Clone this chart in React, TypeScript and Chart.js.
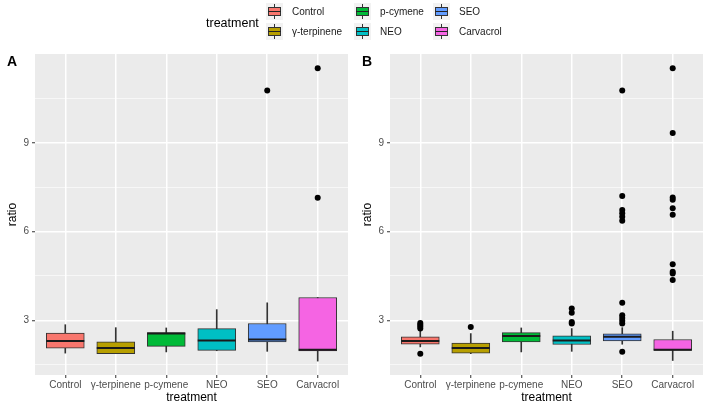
import React, { useEffect, useRef } from "react";
import { Chart, registerables } from "chart.js";
Chart.register(...registerables);

const categories = ["Control", "γ-terpinene", "p-cymene", "NEO", "SEO", "Carvacrol"];
const yTicks = [1.5, 3, 4.5, 6, 7.5, 9, 10.5];
const yMajor = [3, 6, 9];

// Panel A
const lowA = [1.89, 1.87, 1.93, 1.97, 1.95, 1.62];
const q1A = [2.06, 1.87, 2.12, 1.98, 2.27, 1.96];
const medA = [2.3, 2.06, 2.55, 2.32, 2.35, 2.0];
const q3A = [2.57, 2.27, 2.58, 2.72, 2.89, 3.77];
const highA = [2.85, 2.75, 2.74, 3.36, 3.59, 3.77];
const outliersA = [[], [], [], [], [10.77], [11.52, 7.14]];

// Panel B
const lowB = [2.1, 1.87, 1.93, 1.95, 2.19, 1.64];
const q1B = [2.19, 1.89, 2.27, 2.18, 2.3, 1.98];
const medB = [2.3, 2.06, 2.47, 2.32, 2.44, 2.0];
const q3B = [2.44, 2.23, 2.58, 2.47, 2.54, 2.35];
const highB = [2.66, 2.55, 2.74, 2.72, 2.75, 2.63];
const outliersB = [
  [2.91, 2.85, 2.79, 2.72, 1.87],
  [2.77],
  [],
  [3.4, 3.25, 2.94, 2.89],
  [10.77, 7.2, 6.73, 6.62, 6.5, 6.36, 3.59, 3.17, 3.08, 2.98, 2.89, 1.94],
  [11.52, 9.33, 7.15, 7.07, 6.79, 6.57, 4.89, 4.64, 4.58, 4.36],
];

const palette = ["#F8766D", "#B79F00", "#00BA38", "#00BFC4", "#619CFF", "#F564E3"];
const FONT = "'Liberation Sans', Arial, Helvetica, sans-serif";

const bgPlugin = {
  id: "panelBg",
  beforeDraw(chart: any) {
    const { ctx, chartArea } = chart;
    ctx.save();
    ctx.fillStyle = "#EBEBEB";
    ctx.fillRect(chartArea.left, chartArea.top, chartArea.right - chartArea.left, chartArea.bottom - chartArea.top);
    ctx.restore();
  },
};

function buildConfig(low: number[], q1: number[], med: number[], q3: number[], high: number[], outliers: number[][]): any {
  return {
    type: "bar",
    data: {
      datasets: [
        {
          type: "scatter",
          label: "outliers",
          data: outliers.flatMap((arr, i) => arr.map((v) => ({ x: i, y: v }))),
          pointRadius: 3,
          pointBackgroundColor: "#000",
          pointBorderWidth: 0,
          order: 1,
        },
        {
          type: "scatter",
          label: "median",
          data: med.map((v, i) => ({ x: i, y: v })),
          pointStyle: "line",
          pointRadius: 19,
          borderColor: "#1a1a1a",
          pointBorderColor: "#1a1a1a",
          borderWidth: 2,
          pointBorderWidth: 2,
          order: 2,
        },
        {
          type: "bar",
          label: "box",
          data: categories.map((_, i) => ({ x: i, y: [q1[i], q3[i]] })),
          backgroundColor: palette,
          borderColor: "#333",
          borderWidth: 1,
          borderSkipped: false,
          barThickness: 38,
          grouped: false,
          order: 3,
        },
        {
          type: "bar",
          label: "whisker",
          data: categories.map((_, i) => ({ x: i, y: [low[i], high[i]] })),
          backgroundColor: "#333",
          borderWidth: 0,
          barThickness: 1,
          grouped: false,
          order: 4,
        },
      ],
    },
    options: {
      responsive: false,
      animation: false,
      devicePixelRatio: 1,
      layout: { autoPadding: false, padding: { top: 54, right: 7, left: 0, bottom: 0 } },
      plugins: { legend: { display: false }, tooltip: { enabled: false } },
      scales: {
        x: {
          type: "linear",
          min: -0.6,
          max: 5.6,
          offset: false,
          afterBuildTicks: (s: any) => {
            s.ticks = categories.map((_, i) => ({ value: i }));
          },
          afterFit: (s: any) => {
            s.height = 31;
            s.paddingLeft = 0;
            s.paddingRight = 0;
          },
          grid: { offset: false, color: "#ffffff", lineWidth: 1.5, tickLength: 3, tickColor: "#333", tickWidth: 1 },
          border: { display: false },
          ticks: {
            callback: (v: any) => categories[v],
            color: "#4D4D4D",
            font: { size: 10, family: FONT },
            padding: 1,
            maxRotation: 0,
            autoSkip: false,
          },
          title: { display: true, text: "treatment", color: "#000", font: { size: 12, family: FONT }, padding: { top: 0, bottom: 1 } },
        },
        y: {
          type: "linear",
          min: 1.15,
          max: 12.0,
          afterBuildTicks: (s: any) => {
            s.ticks = yTicks.map((v) => ({ value: v }));
          },
          afterFit: (s: any) => {
            s.width = 35;
          },
          grid: {
            color: (c: any) => (yMajor.includes(c.tick?.value) ? "#ffffff" : "rgba(255,255,255,0.75)"),
            lineWidth: (c: any) => (yMajor.includes(c.tick?.value) ? 1.5 : 0.8),
            tickColor: (c: any) => (yMajor.includes(c.tick?.value) ? "#333" : "rgba(0,0,0,0)"),
            tickLength: 3,
            tickWidth: 1,
          },
          border: { display: false },
          ticks: {
            callback: (v: any) => (yMajor.includes(v) ? String(v) : ""),
            color: "#4D4D4D",
            font: { size: 10, family: FONT },
            padding: 3,
          },
          title: { display: true, text: "ratio", color: "#000", font: { size: 12, family: FONT }, padding: { top: 5, bottom: 0 } },
        },
      },
    },
    plugins: [bgPlugin],
  };
}

function Panel(props: { left: number; cfg: () => any }) {
  const ref = useRef<HTMLCanvasElement | null>(null);
  useEffect(() => {
    if (!ref.current) return;
    const chart = new Chart(ref.current, props.cfg());
    return () => chart.destroy();
  }, []);
  return (
    <canvas
      ref={ref}
      width={355}
      height={406}
      style={{ position: "absolute", left: props.left, top: 0, width: 355, height: 406 }}
    />
  );
}

function Key({ color }: { color: string }) {
  return (
    <div style={{ position: "absolute", left: 0, top: 0, width: 17, height: 17, background: "#F2F2F2" }}>
      <div style={{ position: "absolute", left: 8, top: 1, width: 1, height: 15, background: "#333" }} />
      <div
        style={{
          position: "absolute",
          left: 2,
          top: 4,
          width: 13,
          height: 9,
          boxSizing: "border-box",
          background: color,
          border: "1px solid #333",
        }}
      />
      <div style={{ position: "absolute", left: 2, top: 8, width: 13, height: 1, background: "#222" }} />
    </div>
  );
}

const legendCols = [266, 354, 433];
const legendRows = [3, 23];

export default function App() {
  useEffect(() => {
    document.body.style.margin = "0";
  }, []);
  return (
    <div style={{ position: "fixed", left: 0, top: 0, width: 710, height: 406, background: "#fff", fontFamily: FONT, overflow: "hidden" }}>
      <Panel left={0} cfg={() => buildConfig(lowA, q1A, medA, q3A, highA, outliersA)} />
      <Panel left={355} cfg={() => buildConfig(lowB, q1B, medB, q3B, highB, outliersB)} />
      <div style={{ position: "absolute", left: 7, top: 53, fontSize: 14, fontWeight: "bold", lineHeight: "16px", color: "#000" }}>A</div>
      <div style={{ position: "absolute", left: 362, top: 53, fontSize: 14, fontWeight: "bold", lineHeight: "16px", color: "#000" }}>B</div>
      <div style={{ position: "absolute", left: 206, top: 15, fontSize: 12.5, lineHeight: "16px", color: "#000" }}>treatment</div>
      {categories.map((c, i) => {
        const col = Math.floor(i / 2);
        const row = i % 2;
        return (
          <div key={c} style={{ position: "absolute", left: legendCols[col], top: legendRows[row], height: 17, width: 90 }}>
            <Key color={palette[i]} />
            <div style={{ position: "absolute", left: 26, top: 2, fontSize: 10, lineHeight: "13px", color: "#1a1a1a", whiteSpace: "nowrap" }}>{c}</div>
          </div>
        );
      })}
    </div>
  );
}
